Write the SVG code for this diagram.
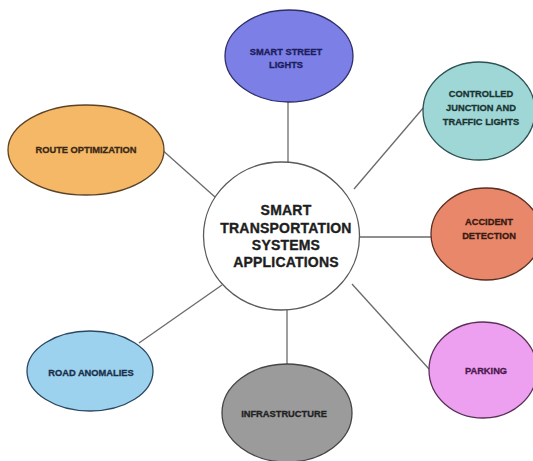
<svg xmlns="http://www.w3.org/2000/svg" width="533" height="461" viewBox="0 0 533 461">
<style>
.bg{fill:#ffffff}
.edge{stroke:#6a6a6a;stroke-width:1.3;fill:none}
.node{stroke-width:1.3}
.lbl{font-family:"Liberation Sans",Arial,sans-serif;font-weight:bold;font-size:9.3px;text-anchor:middle;stroke-width:0.3}
.big{font-family:"Liberation Sans",Arial,sans-serif;font-weight:bold;font-size:14px;text-anchor:middle;fill:#1e1e1e;stroke:#1e1e1e;stroke-width:0.35;letter-spacing:0.2px}
</style>
<rect class="bg" x="0" y="0" width="533" height="461"/>
<g id="connectors">
<line class="edge" x1="288" y1="102" x2="288" y2="162"/>
<line class="edge" x1="354" y1="189" x2="424" y2="107"/>
<line class="edge" x1="160" y1="148" x2="215" y2="197"/>
<line class="edge" x1="360" y1="237" x2="432" y2="237"/>
<line class="edge" x1="222" y1="285" x2="139" y2="343"/>
<line class="edge" x1="287" y1="310" x2="287" y2="364"/>
<line class="edge" x1="352" y1="284" x2="429" y2="369"/>
</g>
<g id="center">
<ellipse class="node" cx="281.5" cy="236" rx="78" ry="74" fill="#ffffff" stroke="#5a5a5a"/>
<text class="big" x="286" y="215">SMART</text>
<text class="big" x="286" y="233">TRANSPORTATION</text>
<text class="big" x="286" y="250">SYSTEMS</text>
<text class="big" x="286" y="267">APPLICATIONS</text>
</g>
<g id="street-lights">
<ellipse class="node" cx="289" cy="56" rx="64" ry="46" fill="#7b7fe6" stroke="#2e2f6a"/>
<text class="lbl" x="286" y="55" fill="#1c1d5c" stroke="#1c1d5c">SMART STREET</text>
<text class="lbl" x="286" y="68" fill="#1c1d5c" stroke="#1c1d5c">LIGHTS</text>
</g>
<g id="controlled-junction">
<ellipse class="node" cx="479" cy="111" rx="56" ry="49" fill="#9fd7d6" stroke="#2e5152"/>
<text class="lbl" x="481" y="97" fill="#1a3434" stroke="#1a3434">CONTROLLED</text>
<text class="lbl" x="481" y="111" fill="#1a3434" stroke="#1a3434">JUNCTION AND</text>
<text class="lbl" x="481" y="125" fill="#1a3434" stroke="#1a3434">TRAFFIC LIGHTS</text>
</g>
<g id="route-optimization">
<ellipse class="node" cx="86" cy="150" rx="78" ry="45" fill="#f4b866" stroke="#5c4326"/>
<text class="lbl" x="86" y="153" fill="#3b2716" stroke="#3b2716">ROUTE OPTIMIZATION</text>
</g>
<g id="accident-detection">
<ellipse class="node" cx="486" cy="234" rx="55" ry="46" fill="#e8876a" stroke="#5a3024"/>
<text class="lbl" x="489" y="225" fill="#3a1a12" stroke="#3a1a12">ACCIDENT</text>
<text class="lbl" x="489" y="239" fill="#3a1a12" stroke="#3a1a12">DETECTION</text>
</g>
<g id="road-anomalies">
<ellipse class="node" cx="90" cy="371" rx="63" ry="40" fill="#9dd2ef" stroke="#2b4862"/>
<text class="lbl" x="91" y="376" fill="#1a2f4a" stroke="#1a2f4a">ROAD ANOMALIES</text>
</g>
<g id="infrastructure">
<ellipse class="node" cx="287" cy="413" rx="65" ry="49" fill="#9b9b9b" stroke="#454545"/>
<text class="lbl" x="284" y="417" fill="#222222" stroke="#222222">INFRASTRUCTURE</text>
</g>
<g id="parking">
<ellipse class="node" cx="483" cy="370" rx="54" ry="48" fill="#eea0f0" stroke="#5a305a"/>
<text class="lbl" x="486" y="374" fill="#4a1a4c" stroke="#4a1a4c">PARKING</text>
</g>
</svg>
